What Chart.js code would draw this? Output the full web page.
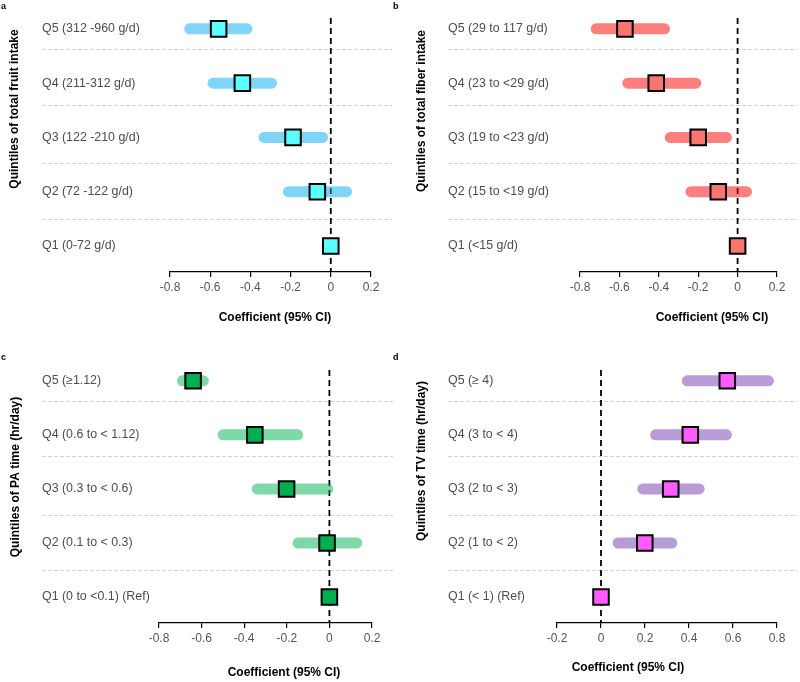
<!DOCTYPE html>
<html>
<head>
<meta charset="utf-8">
<script src="https://cdn.jsdelivr.net/npm/chart.js@4.4.0/dist/chart.umd.min.js"></script>
<style>
  body { margin: 0; background: #fff; }
  #wrap { position: relative; width: 800px; height: 682px; }
  canvas { position: absolute; }
  .tag { position: absolute; font: bold 9px "Liberation Sans", Arial, sans-serif; color: #000; line-height: 9px; }
</style>
</head>
<body>
<div id="wrap">
  <canvas id="fruitChart" width="400" height="330" style="left:0;top:0"></canvas>
  <canvas id="fiberChart" width="400" height="330" style="left:400px;top:0"></canvas>
  <canvas id="paChart" width="400" height="352" style="left:0;top:330px"></canvas>
  <canvas id="tvChart" width="400" height="352" style="left:400px;top:330px"></canvas>
  <div class="tag" style="left:1px;top:2px">a</div>
  <div class="tag" style="left:393px;top:2px">b</div>
  <div class="tag" style="left:1px;top:353px">c</div>
  <div class="tag" style="left:393px;top:353px">d</div>
</div>
<script>
const FONT = '"Liberation Sans", Arial, sans-serif';
Chart.defaults.font.family = FONT;

// rows from bottom (Q1) to top (Q5)
const ROWS = [1, 2, 3, 4, 5];
// dashed grey separators between the rows, in row units
const SEPARATORS = [4.62, 3.6, 2.52, 1.5];

const fruitLabels = ['Q1 (0-72 g/d)', 'Q2 (72 -122 g/d)', 'Q3 (122 -210 g/d)', 'Q4 (211-312 g/d)', 'Q5 (312 -960 g/d)'];
const fruitEst = [0, -0.067, -0.188, -0.44, -0.558];
const fruitLow = [null, -0.211, -0.332, -0.586, -0.702];
const fruitHigh = [null, 0.078, -0.041, -0.295, -0.417];

const fiberLabels = ['Q1 (<15 g/d)', 'Q2 (15 to <19 g/d)', 'Q3 (19 to <23 g/d)', 'Q4 (23 to <29 g/d)', 'Q5 (29 to 117 g/d)'];
const fiberEst = [0, -0.098, -0.2, -0.413, -0.572];
const fiberLow = [null, -0.237, -0.342, -0.557, -0.718];
const fiberHigh = [null, 0.045, -0.057, -0.212, -0.371];

const paLabels = ['Q1 (0 to <0.1) (Ref)', 'Q2 (0.1 to < 0.3)', 'Q3 (0.3 to < 0.6)', 'Q4 (0.6 to < 1.12)', 'Q5 (\u22651.12)'];
const paEst = [0, -0.011, -0.201, -0.35, -0.64];
const paLow = [null, -0.147, -0.339, -0.499, -0.69];
const paHigh = [null, 0.128, -0.008, -0.149, -0.592];

const tvLabels = ['Q1 (< 1) (Ref)', 'Q2 (1 to < 2)', 'Q3 (2 to < 3)', 'Q4 (3 to < 4)', 'Q5 (\u2265 4)'];
const tvEst = [0, 0.199, 0.317, 0.406, 0.574];
const tvLow = [null, 0.078, 0.19, 0.248, 0.392];
const tvHigh = [null, 0.322, 0.446, 0.57, 0.761];

const forestDecor = {
  id: 'forestDecor',
  beforeDatasetsDraw(chart, args, o) {
    const { ctx, chartArea, scales: { x, y } } = chart;
    ctx.save();
    ctx.strokeStyle = '#d2d2d2';
    ctx.lineWidth = 1;
    ctx.setLineDash([4, 2]);
    SEPARATORS.forEach(v => {
      const py = Math.round(y.getPixelForValue(v)) + 0.5;
      ctx.beginPath();
      ctx.moveTo(o.labelLeft, py);
      ctx.lineTo(o.sepRight, py);
      ctx.stroke();
    });
    // reference line at 0
    ctx.strokeStyle = '#000';
    ctx.lineWidth = 1.8;
    ctx.setLineDash([6, 4]);
    const px = x.getPixelForValue(0);
    ctx.beginPath();
    ctx.moveTo(px, chartArea.top);
    ctx.lineTo(px, chartArea.bottom);
    ctx.stroke();
    ctx.restore();
  },
  afterDraw(chart, args, o) {
    const ctx = chart.ctx;
    ctx.save();
    ctx.fillStyle = '#000';
    ctx.font = 'bold 12px ' + FONT;
    ctx.textAlign = 'center';
    ctx.textBaseline = 'middle';
    ctx.fillText(o.xTitle, o.xTitleX, o.xTitleY);
    ctx.translate(o.yTitleX, o.yTitleY);
    ctx.rotate(-Math.PI / 2);
    ctx.fillText(o.yTitle, 0, 0);
    ctx.restore();
  }
};

function makeForest(id, p) {
  const canvas = document.getElementById(id);
  const W = canvas.width, H = canvas.height;

  const ciSets = [];
  ROWS.forEach((r, i) => {
    if (p.low[i] == null) return;
    ciSets.push({
      data: [{ x: p.low[i], y: r }, { x: p.high[i], y: r }],
      showLine: true,
      borderColor: p.barColor,
      borderWidth: 11,
      borderCapStyle: 'round',
      pointRadius: 0,
      order: 2
    });
  });

  const pointSet = {
    data: ROWS.map((r, i) => ({ x: p.est[i], y: r })),
    pointStyle: 'rect',
    pointRadius: 11,
    pointBackgroundColor: p.pointColor,
    pointBorderColor: '#000',
    pointBorderWidth: 2,
    order: 0
  };

  return new Chart(canvas.getContext('2d'), {
    type: 'scatter',
    data: { datasets: [pointSet].concat(ciSets) },
    plugins: [forestDecor],
    options: {
      responsive: false,
      animation: false,
      events: [],
      clip: false,
      layout: {
        padding: { left: p.labelLeft, right: W - p.area.right, top: p.area.top, bottom: 0 }
      },
      plugins: {
        legend: { display: false },
        tooltip: { enabled: false },
        forestDecor: {
          labelLeft: p.labelLeft,
          sepRight: p.sepRight,
          xTitle: 'Coefficient (95% CI)',
          xTitleX: p.xTitleX,
          xTitleY: p.xTitleY,
          yTitle: p.yTitle,
          yTitleX: p.yTitleX,
          yTitleY: p.yTitleY
        }
      },
      scales: {
        x: {
          type: 'linear',
          min: p.xMin,
          max: p.xMax,
          afterFit: s => { s.height = H - p.area.bottom; },
          border: { color: '#000', width: 1.2 },
          grid: { drawOnChartArea: false, color: '#000', lineWidth: 1.2, tickLength: 5 },
          ticks: {
            stepSize: 0.2,
            padding: 3,
            color: '#555',
            font: { size: 12 },
            callback: v => String(Math.round(v * 10) / 10)
          }
        },
        y: {
          type: 'linear',
          min: 0.52,
          max: 5.2,
          afterBuildTicks: s => { s.ticks = ROWS.map(v => ({ value: v })); },
          afterFit: s => { s.width = p.area.left - p.labelLeft; },
          border: { display: false },
          grid: { display: false },
          ticks: {
            crossAlign: 'far',
            padding: 0,
            color: '#4d4d4d',
            font: { size: 12.4 },
            autoSkip: false,
            callback: v => p.labels[v - 1]
          }
        }
      }
    }
  });
}

makeForest('fruitChart', {
  labels: fruitLabels, est: fruitEst, low: fruitLow, high: fruitHigh,
  xMin: -0.8, xMax: 0.2,
  barColor: 'rgba(0, 170, 240, 0.5)', pointColor: '#5cffff',
  yTitle: 'Quintiles of total fruit intake',
  area: { left: 170, right: 371, top: 18, bottom: 272 },
  labelLeft: 42, sepRight: 392,
  yTitleX: 15, yTitleY: 109, xTitleX: 275, xTitleY: 318
});

makeForest('fiberChart', {
  labels: fiberLabels, est: fiberEst, low: fiberLow, high: fiberHigh,
  xMin: -0.8, xMax: 0.2,
  barColor: 'rgba(255, 0, 0, 0.5)', pointColor: '#f8766d',
  yTitle: 'Quintiles of total fiber intake',
  area: { left: 180, right: 377, top: 18, bottom: 272 },
  labelLeft: 48, sepRight: 397,
  yTitleX: 22, yTitleY: 111, xTitleX: 312, xTitleY: 318
});

makeForest('paChart', {
  labels: paLabels, est: paEst, low: paLow, high: paHigh,
  xMin: -0.8, xMax: 0.2,
  barColor: 'rgba(0, 177, 81, 0.5)', pointColor: '#00b050',
  yTitle: 'Quintiles of PA time (hr/day)',
  area: { left: 159, right: 372, top: 40, bottom: 293 },
  labelLeft: 42, sepRight: 393,
  yTitleX: 16, yTitleY: 147, xTitleX: 284, xTitleY: 343
});

makeForest('tvChart', {
  labels: tvLabels, est: tvEst, low: tvLow, high: tvHigh,
  xMin: -0.2, xMax: 0.8,
  barColor: 'rgba(113, 57, 177, 0.5)', pointColor: '#ff5cff',
  yTitle: 'Quintiles of TV time (hr/day)',
  area: { left: 157, right: 377, top: 40, bottom: 293 },
  labelLeft: 48, sepRight: 397,
  yTitleX: 22, yTitleY: 131, xTitleX: 228, xTitleY: 338
});
</script>
</body>
</html>
